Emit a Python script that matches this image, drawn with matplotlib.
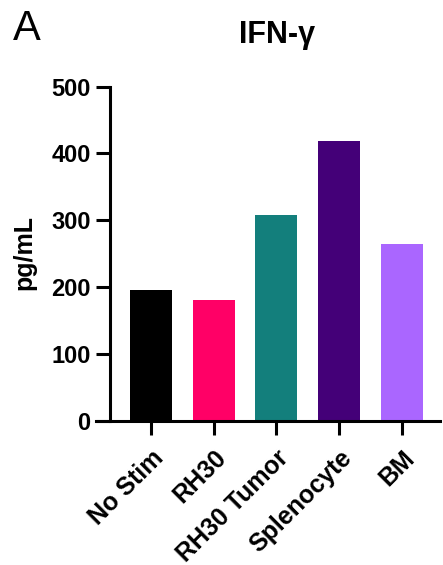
import matplotlib.pyplot as plt
import numpy as np

plt.rcParams["font.family"] = ["Liberation Sans", "DejaVu Sans"]

groups = ["No Stim", "RH30", "RH30 Tumor", "Splenocyte", "BM"]
ifng = [196, 180, 308, 419, 265]
colors = ["#000000", "#FF0066", "#137F7C", "#440078", "#AA66FF"]
yticks = [0, 100, 200, 300, 400, 500]

fig = plt.figure(figsize=(4.43, 5.65), dpi=100)
ax = fig.add_axes([0.2167, 0.2554, 0.7765, 0.5912])

x = np.arange(len(groups))
ax.bar(x, ifng, width=0.67, color=colors)

ax.set_xlim(-0.876, 4.606)
ax.set_ylim(0, 500)

for side in ("top", "right"):
    ax.spines[side].set_visible(False)
ax.spines["left"].set_position(("data", -0.653))
for side in ("left", "bottom"):
    ax.spines[side].set_linewidth(2.2)

ax.set_yticks(yticks)
ax.set_xticks(x)
ax.set_xticklabels(groups, rotation=45, ha="right", va="top",
                   rotation_mode="anchor")
ax.tick_params(axis="both", length=10, width=2.2, labelsize=17, pad=4)
ax.tick_params(axis="x", labelsize=18, pad=8)
for lbl in ax.get_xticklabels() + ax.get_yticklabels():
    lbl.set_fontweight("bold")

fig.text(24 / 443, 1 - 253 / 565, "pg/mL", rotation=90, ha="center",
         va="center", fontsize=18, fontweight="bold")
fig.text(277 / 443, 1 - 43 / 565, "IFN-γ", ha="center", va="baseline",
         fontsize=22, fontweight="bold")
fig.text(13 / 443, 1 - 40 / 565, "A", ha="left", va="baseline", fontsize=30)

fig.savefig("out.png", dpi=100)
